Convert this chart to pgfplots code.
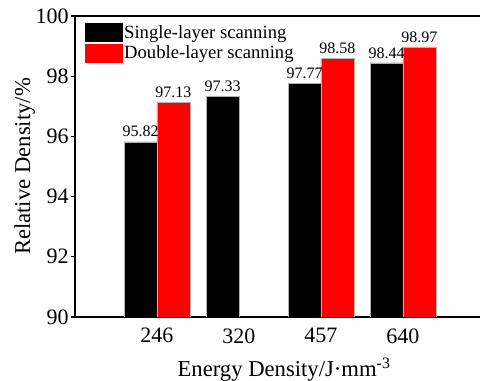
\documentclass[border=0pt]{standalone}
\usepackage{pgfplots}
\pgfplotsset{compat=1.18}
\usepackage{fontspec}
\setmainfont{Liberation Serif}
\begin{document}
\begin{tikzpicture}
\begin{axis}[
  width=313.65pt, height=225.75pt, scale only axis,
  xmin=-1, xmax=4.1, ymin=90, ymax=100,
  axis x line*=box, axis y line*=left,
  x axis line style={-}, y axis line style={-},
  axis line style={line width=1.1pt},
  ybar=0pt, bar width=0.4,
  xtick={0,1,2,3}, xticklabels={246,320,457,640},
  ytick={90,92,...,100},
  x tick style={draw=none},
  y tick style={line width=1pt, black},
  tick align=outside, major tick length=3pt,
  tick label style={font=\fontsize{16.5}{18}\selectfont},
  yticklabel style={inner sep=1.5pt},
  xticklabel style={yshift=-2pt},
  /pgf/number format/assume math mode=true,
  xlabel={Energy Density/J·mm\textsuperscript{-3}},
  ylabel={Relative Density/\%},
  label style={font=\fontsize{17}{20}\selectfont},
  xlabel style={yshift=-4pt},
  ylabel style={yshift=-4.5pt},
  nodes near coords,
  every node near coord/.append style={font=\fontsize{12}{14}\selectfont, text=black},
  legend style={at={(0.0144,0.985)}, anchor=north west, draw=none, fill=none,
    font=\fontsize{14}{16}\selectfont, nodes={inner sep=1pt}, row sep=1.5pt},
  legend cell align=left,
]
\addplot[fill=black, draw=gray!60, line width=0.4pt,
  legend image code/.code={\fill[black] (0pt,-6.75pt) rectangle (27.75pt,6.75pt);}]
  coordinates {(0,95.82) (1,97.33) (2,97.77) (3,98.44)};
\addlegendentry{Single-layer scanning}
\addplot[fill=red, draw=gray!60, line width=0.4pt,
  legend image code/.code={\fill[red] (0pt,-6.75pt) rectangle (27.75pt,6.75pt);}]
  coordinates {(0,97.13) (2,98.58) (3,98.97)};
\addlegendentry{Double-layer scanning}
\end{axis}
\pgfresetboundingbox
\path (-56.25pt,-48pt) rectangle (303.75pt,237.75pt);
\end{tikzpicture}
\end{document}
